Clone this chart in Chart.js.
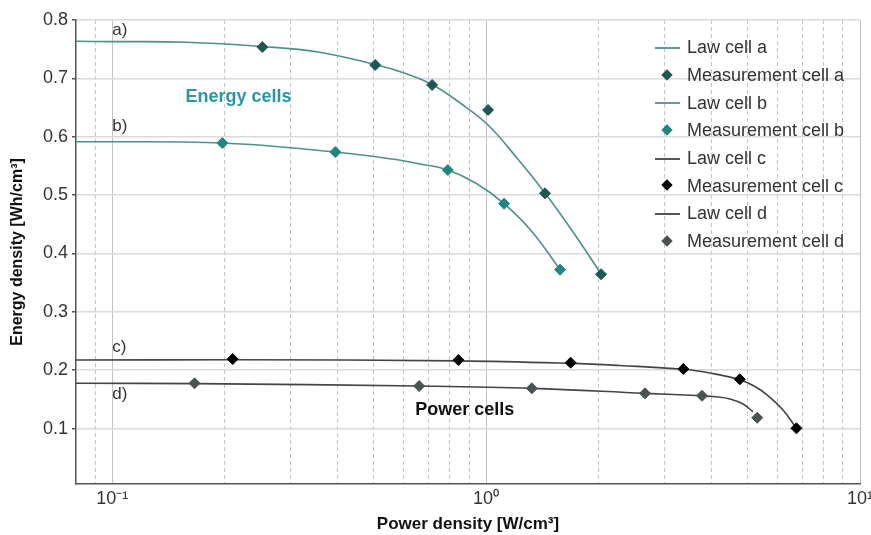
<!DOCTYPE html>
<html>
<head>
<meta charset="utf-8">
<script src="https://cdn.jsdelivr.net/npm/chart.js@4.4.1/dist/chart.umd.min.js"></script>
<style>
  html, body { margin: 0; padding: 0; background: #fff; }
  #wrap { position: relative; width: 871px; height: 535px; }
  #legend { position: absolute; left: 655px; top: 34px; font-family: "Liberation Sans", Arial, sans-serif; font-size: 18px; color: #333; }
  .row { height: 27.7px; display: flex; align-items: center; }
  .sym { width: 25px; height: 12px; position: relative; margin-right: 7px; }
  .line { position: absolute; left: 0; right: 0; top: 5px; height: 2px; opacity: 0.9; }
  .dia { position: absolute; left: 8px; top: 1px; width: 8px; height: 8px; transform: rotate(45deg); }
</style>
</head>
<body>
<div id="wrap">
  <canvas id="chart" width="871" height="535"></canvas>
  <div id="legend"></div>
</div>
<script>
// law curves
const lawAx = [0.08, 0.1, 0.158, 0.252, 0.355, 0.505, 0.604, 0.717, 0.852, 1.012, 1.203, 1.437, 1.708, 2.03];
const lawAy = [0.7635, 0.763, 0.762, 0.7546, 0.7452, 0.7237, 0.7092, 0.6895, 0.6578, 0.6201, 0.5652, 0.5036, 0.4367, 0.3648];
const lawBx = [0.08, 0.197, 0.395, 0.561, 0.666, 0.79, 0.94, 1.117, 1.327, 1.577];
const lawBy = [0.5915, 0.5892, 0.5738, 0.5618, 0.5533, 0.543, 0.5202, 0.4853, 0.4372, 0.3722];
const lawCx = [0.08, 0.21, 0.843, 1.683, 2.28, 3.37, 3.996, 4.77, 5.206, 5.675, 6.225, 6.76];
const lawCy = [0.2174, 0.2178, 0.216, 0.2117, 0.208, 0.2015, 0.1948, 0.1837, 0.1729, 0.1566, 0.1317, 0.1004];
const lawDx = [0.08, 0.166, 0.662, 1.325, 2.66, 3.78, 4.121, 4.49, 4.866, 5.176];
const lawDy = [0.1775, 0.177, 0.1728, 0.1689, 0.1603, 0.1562, 0.1545, 0.1506, 0.142, 0.1288];

// measurements
const measAx = [0.252, 0.505, 0.717, 1.012, 1.437, 2.03];
const measAy = [0.7537, 0.7229, 0.6887, 0.6458, 0.503, 0.3643];
const measBx = [0.197, 0.395, 0.79, 1.117, 1.577];
const measBy = [0.5892, 0.5738, 0.543, 0.4853, 0.3722];
const measCx = [0.21, 0.843, 1.683, 3.37, 4.77, 6.76];
const measCy = [0.2191, 0.2174, 0.2128, 0.202, 0.1844, 0.1004];
const measDx = [0.166, 0.662, 1.325, 2.66, 3.78, 5.31];
const measDy = [0.1775, 0.1728, 0.1689, 0.1603, 0.1562, 0.1185];

// axes
const xMajor = [0.1, 1, 10];
const xMajorLabels = ['10⁻¹', '10⁰', '10¹'];
const yTicks = [0.1, 0.2, 0.3, 0.4, 0.5, 0.6, 0.7, 0.8];

const FONT = '"Liberation Sans", Arial, sans-serif';

function pts(xs, ys) { return xs.map((x, i) => ({ x: x, y: ys[i] })); }

function lawSet(label, xs, ys, color) {
    return { label, data: pts(xs, ys), borderColor: color, borderWidth: 1.6, pointRadius: 0,
        showLine: true, fill: false, tension: 0.4, order: 2, kind: 'line' };
}
function measSet(label, xs, ys, color) {
    return { label, data: pts(xs, ys), borderColor: color, backgroundColor: color, borderWidth: 1,
        pointStyle: 'rectRot', pointRadius: 5.5, showLine: false, order: 1, kind: 'dot' };
}

const datasets = [
    lawSet('Law cell a', lawAx, lawAy, '#4d908e'),
    measSet('Measurement cell a', measAx, measAy, '#1d5854'),
    lawSet('Law cell b', lawBx, lawBy, '#4d908e'),
    measSet('Measurement cell b', measBx, measBy, '#1f8782'),
    lawSet('Law cell c', lawCx, lawCy, '#444444'),
    measSet('Measurement cell c', measCx, measCy, '#000000'),
    lawSet('Law cell d', lawDx, lawDy, '#444444'),
    measSet('Measurement cell d', measDx, measDy, '#4a5253')
];

// text labels on the plot
const notes = [
    { text: 'a)', x: 0.1, y: 0.783, color: '#333', bold: false },
    { text: 'b)', x: 0.1, y: 0.617, color: '#333', bold: false },
    { text: 'c)', x: 0.1, y: 0.240, color: '#333', bold: false },
    { text: 'd)', x: 0.1, y: 0.159, color: '#333', bold: false },
    { text: 'Energy cells', x: 0.157, y: 0.668, color: '#2797a8', bold: true },
    { text: 'Power cells', x: 0.646, y: 0.132, color: '#111', bold: true }
];

const notesPlugin = {
    id: 'notes',
    afterDatasetsDraw(chart) {
        const { ctx, scales } = chart;
        ctx.save();
        ctx.textBaseline = 'middle';
        ctx.textAlign = 'left';
        notes.forEach(n => {
            ctx.font = (n.bold ? 'bold 18px ' : '17px ') + FONT;
            ctx.fillStyle = n.color;
            ctx.fillText(n.text, scales.x.getPixelForValue(n.x), scales.y.getPixelForValue(n.y));
        });
        ctx.restore();
    }
};

const chart = new Chart(document.getElementById('chart').getContext('2d'), {
    type: 'scatter',
    data: { datasets },
    options: {
        responsive: false,
        animation: false,
        layout: { padding: { top: 20, right: 11, left: 8, bottom: 0 } },
        plugins: { legend: { display: false }, tooltip: { enabled: false } },
        scales: {
            x: {
                type: 'logarithmic',
                min: 0.08, max: 10,
                afterBuildTicks(scale) {
                    const vals = [0.08, 0.09];
                    [0.1, 1].forEach(d => { for (let k = 1; k <= 9; k++) vals.push(+(d * k).toFixed(3)); });
                    vals.push(10);
                    scale.ticks = vals.map(v => ({ value: v, major: xMajor.includes(v) }));
                },
                afterFit(scale) { scale.height = 51; scale.paddingRight = 0; scale.paddingLeft = 0; },
                ticks: {
                    autoSkip: false, maxRotation: 0, padding: 4,
                    color: '#333', font: { family: FONT, size: 18 },
                    callback(v) { const i = xMajor.indexOf(v); return i >= 0 ? xMajorLabels[i] : ''; }
                },
                grid: {
                    drawTicks: false,
                    lineWidth: 1,
                    color: ctx => (ctx.tick && ctx.tick.value === 0.08) ? 'rgba(0,0,0,0)' :
                        (ctx.tick && xMajor.includes(ctx.tick.value) ? '#c2c2c2' : '#c4c4c4')
                },
                border: {
                    color: '#555', width: 1.5,
                    dash: ctx => (ctx.tick && !xMajor.includes(ctx.tick.value)) ? [4, 3] : []
                },
                title: {
                    display: true, text: 'Power density [W/cm³]', color: '#111',
                    font: { family: FONT, size: 17, weight: 'bold' }, padding: { top: 2, bottom: 0 }
                }
            },
            y: {
                min: 0.005, max: 0.8,
                afterBuildTicks(scale) { scale.ticks = yTicks.map(v => ({ value: v })); },
                afterFit(scale) { scale.width = 68; },
                ticks: {
                    color: '#333', font: { family: FONT, size: 18 }, padding: 4,
                    callback: v => v.toFixed(1)
                },
                grid: { color: '#dadada', lineWidth: 1.5, tickColor: '#555', tickLength: 4, tickWidth: 1.5 },
                border: { color: '#555', width: 1.5 },
                title: {
                    display: true, text: 'Energy density [Wh/cm³]', color: '#111',
                    font: { family: FONT, size: 16, weight: 'bold' }, padding: { top: 0, bottom: 4 }
                }
            }
        }
    },
    plugins: [notesPlugin]
});

// legend inside the plot, built from the datasets
const legendEl = document.getElementById('legend');
legendEl.innerHTML = chart.data.datasets.map(d => `
    <div class="row">
      <div class="sym">${d.kind === 'line'
        ? `<div class="line" style="background:${d.borderColor}"></div>`
        : `<div class="dia" style="background:${d.backgroundColor}"></div>`}</div>
      <span>${d.label}</span>
    </div>`).join('');
</script>
</body>
</html>
